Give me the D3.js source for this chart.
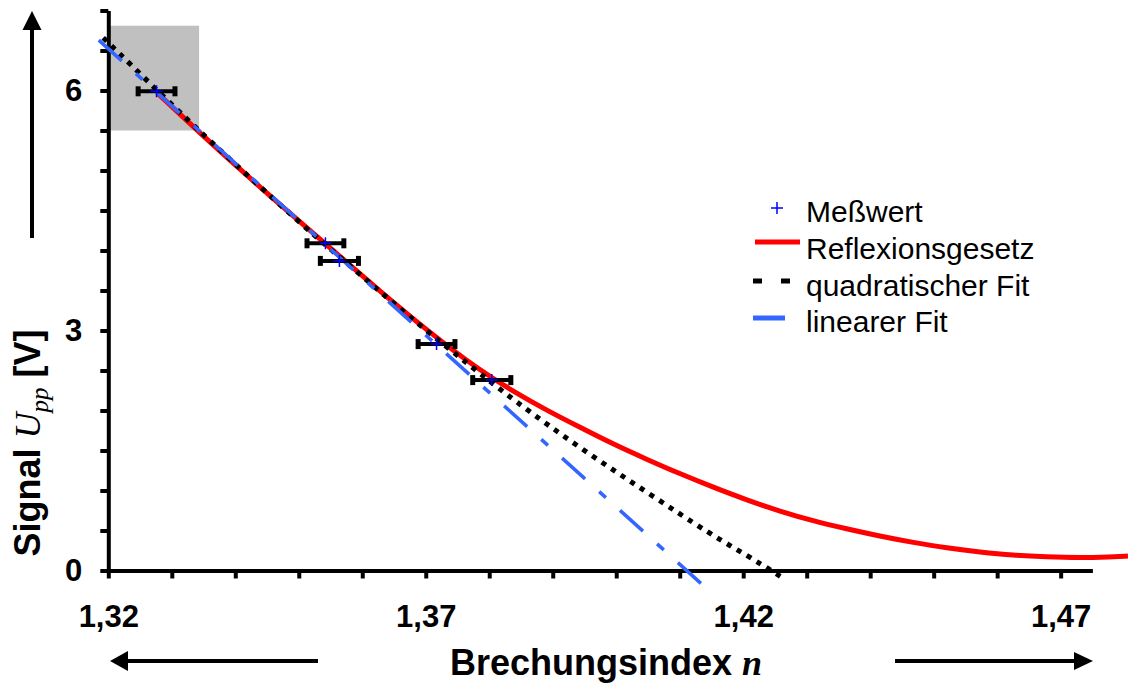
<!DOCTYPE html>
<html>
<head>
<meta charset="utf-8">
<script src="https://cdn.jsdelivr.net/npm/d3@7"></script>
<style>
body { margin: 0; background: #fff; }
svg { display: block; font-family: "Liberation Sans", Arial, sans-serif; }
</style>
</head>
<body>
<svg id="chart" width="1128" height="688"></svg>
<script>
// measured points (Meßwert) with horizontal error
var pointN = [1.3276, 1.3542, 1.3564, 1.3717, 1.3804];
var pointU = [5.99, 4.09, 3.87, 2.83, 2.38];
var pointErr = [0.0029, 0.0029, 0.003, 0.0029, 0.003];

// Reflexionsgesetz (red)
var reflN = [1.3277, 1.3344, 1.3439, 1.3541, 1.3628, 1.3702, 1.3785, 1.3838, 1.3891, 1.3943, 1.3995, 1.4048, 1.4100, 1.4153, 1.4206, 1.4258, 1.4310, 1.4363, 1.4415, 1.4468, 1.4521, 1.4573, 1.4625, 1.4678, 1.4730, 1.4778, 1.4806];
var reflU = [5.97, 5.47, 4.79, 4.09, 3.49, 3.00, 2.50, 2.24, 2.00, 1.79, 1.58, 1.39, 1.21, 1.04, 0.88, 0.74, 0.62, 0.52, 0.43, 0.35, 0.28, 0.23, 0.19, 0.17, 0.16, 0.17, 0.18];

// quadratischer Fit (black dotted)
var quadN = [1.3192, 1.3277, 1.3350, 1.3506, 1.3594, 1.3680, 1.3770, 1.3838, 1.3943, 1.4048, 1.4153, 1.4206, 1.4248, 1.4264];
var quadU = [6.66, 6.00, 5.44, 4.31, 3.72, 3.13, 2.56, 2.13, 1.53, 0.98, 0.43, 0.19, -0.02, -0.10];

// linearer Fit (blue dashed)
var linN = [1.3185, 1.4143];
var linU = [6.63, -0.23];

// grey highlight box
var boxN = [1.32, 1.3343];
var boxU = [5.5, 6.81];

var xLabelTicks = [1.32, 1.37, 1.42, 1.47];
var yLabelTicks = [0, 3, 6];
var legendLabels = ["Meßwert", "Reflexionsgesetz", "quadratischer Fit", "linearer Fit"];

var svg = d3.select("#chart");
var x = d3.scaleLinear().domain([1.32, 1.475]).range([108.3, 1092.4]);
var y = d3.scaleLinear().domain([0, 7]).range([570.5, 10.5]);

var de = d3.formatLocale({decimal: ",", thousands: ".", grouping: [3], currency: ["", " €"]});
var fmt = de.format(".2f");

// grey box
svg.append("rect")
  .attr("x", x(boxN[0])).attr("y", y(boxU[1]))
  .attr("width", x(boxN[1]) - x(boxN[0]))
  .attr("height", y(boxU[0]) - y(boxU[1]))
  .attr("fill", "#c0c0c0");

// axes
var xMinor = d3.range(0, 16).map(function(i) { return +(1.32 + i * 0.01).toFixed(2); });
var yMinor = d3.range(0, 15).map(function(i) { return i * 0.5; });

var xAxis = d3.axisBottom(x).tickValues(xMinor).tickSize(8).tickSizeOuter(0).tickPadding(26)
  .tickFormat(function(d) { return xLabelTicks.indexOf(d) >= 0 ? fmt(d) : ""; });
var yAxis = d3.axisLeft(y).tickValues(yMinor).tickSize(8).tickSizeOuter(0).tickPadding(18)
  .tickFormat(function(d) { return yLabelTicks.indexOf(d) >= 0 ? d : ""; });

var gx = svg.append("g").attr("transform", "translate(0," + y(0) + ")").call(xAxis);
var gy = svg.append("g").attr("transform", "translate(" + x(1.32) + ",0)").call(yAxis);

[gx, gy].forEach(function(g) {
  g.select(".domain").attr("stroke", "#000").attr("stroke-width", 4);
  g.selectAll(".tick line").attr("stroke", "#000").attr("stroke-width", 4);
  g.selectAll(".tick text").attr("fill", "#000")
    .style("font-size", "31px").style("font-weight", "bold")
    .style("font-family", "'Liberation Sans', Arial, sans-serif");
});

function pts(ns, us) {
  return ns.map(function(n, i) { return [n, us[i]]; });
}
// readings are a bit noisy, so smooth them with a basis curve
var line = d3.line().x(function(d) { return x(d[0]); }).y(function(d) { return y(d[1]); })
  .curve(d3.curveBasis);

// red
svg.append("path").datum(pts(reflN, reflU)).attr("d", line)
  .attr("fill", "none").attr("stroke", "#ff0000").attr("stroke-width", 5);

// black dotted
svg.append("path").datum(pts(quadN, quadU)).attr("d", line)
  .attr("fill", "none").attr("stroke", "#000").attr("stroke-width", 5)
  .attr("stroke-dasharray", "5,6.5");

// blue dashed
svg.append("path").datum(pts(linN, linU)).attr("d", d3.line().x(function(d) { return x(d[0]); }).y(function(d) { return y(d[1]); }))
  .attr("fill", "none").attr("stroke", "#3366ff").attr("stroke-width", 3.5)
  .attr("stroke-dasharray", "31,19,9,19");

// error bars
var eb = svg.append("g");
pointN.forEach(function(n, i) {
  var cy = y(pointU[i]);
  var x0 = x(n - pointErr[i]), x1 = x(n + pointErr[i]);
  eb.append("line").attr("x1", x0).attr("x2", x1).attr("y1", cy).attr("y2", cy)
    .attr("stroke", "#000").attr("stroke-width", 4);
  [x0, x1].forEach(function(xx) {
    eb.append("rect").attr("x", xx - 2.5).attr("y", cy - 5).attr("width", 5).attr("height", 10).attr("fill", "#000");
  });
  var cx = x(n);
  eb.append("path").attr("d", "M" + (cx - 6) + "," + cy + "H" + (cx + 6) + "M" + cx + "," + (cy - 6) + "V" + (cy + 6))
    .attr("stroke", "#0000ff").attr("stroke-width", 1.5);
});

// legend
var lg = svg.append("g");
var baseY = [222, 259, 296, 332];
lg.append("path").attr("d", "M771,208H783M777,202V214").attr("stroke", "#0000ff").attr("stroke-width", 1.5);
lg.append("line").attr("x1", 755).attr("x2", 800).attr("y1", 242).attr("y2", 242).attr("stroke", "#ff0000").attr("stroke-width", 5);
lg.append("line").attr("x1", 753).attr("x2", 791).attr("y1", 281).attr("y2", 281).attr("stroke", "#000").attr("stroke-width", 5).attr("stroke-dasharray", "9,19");
lg.append("line").attr("x1", 753).attr("x2", 785).attr("y1", 318).attr("y2", 318).attr("stroke", "#3366ff").attr("stroke-width", 5);
legendLabels.forEach(function(t, i) {
  lg.append("text").attr("x", 806).attr("y", baseY[i]).text(t)
    .style("font-size", "30px").attr("fill", "#000");
});

// arrows
svg.append("line").attr("x1", 32).attr("x2", 32).attr("y1", 238).attr("y2", 28).attr("stroke", "#000").attr("stroke-width", 4);
svg.append("path").attr("d", "M32,11L22.5,30L41.5,30Z").attr("fill", "#000");
svg.append("line").attr("x1", 126).attr("x2", 318).attr("y1", 661).attr("y2", 661).attr("stroke", "#000").attr("stroke-width", 4);
svg.append("path").attr("d", "M110,661L128,651L128,671Z").attr("fill", "#000");
svg.append("line").attr("x1", 895).attr("x2", 1076).attr("y1", 661).attr("y2", 661).attr("stroke", "#000").attr("stroke-width", 4);
svg.append("path").attr("d", "M1093,661L1074,652L1074,670Z").attr("fill", "#000");

// axis titles
var xt = svg.append("text").attr("x", 606).attr("y", 675).attr("text-anchor", "middle")
  .style("font-size", "36px").style("font-weight", "bold");
xt.append("tspan").text("Brechungsindex ");
xt.append("tspan").text("n").style("font-family", "'Liberation Serif', 'Times New Roman', serif").style("font-style", "italic");

var yt = svg.append("text").attr("transform", "translate(40,443) rotate(-90)").attr("text-anchor", "middle")
  .style("font-size", "36px").style("font-weight", "bold");
yt.append("tspan").text("Signal ");
yt.append("tspan").text("U").style("font-family", "'Liberation Serif', 'Times New Roman', serif").style("font-style", "italic").style("font-weight", "normal");
yt.append("tspan").text("pp").attr("dy", 8).style("font-size", "25px").style("font-family", "'Liberation Serif', 'Times New Roman', serif").style("font-style", "italic").style("font-weight", "normal");
yt.append("tspan").text(" [V]").attr("dy", -8);
</script>
</body>
</html>
